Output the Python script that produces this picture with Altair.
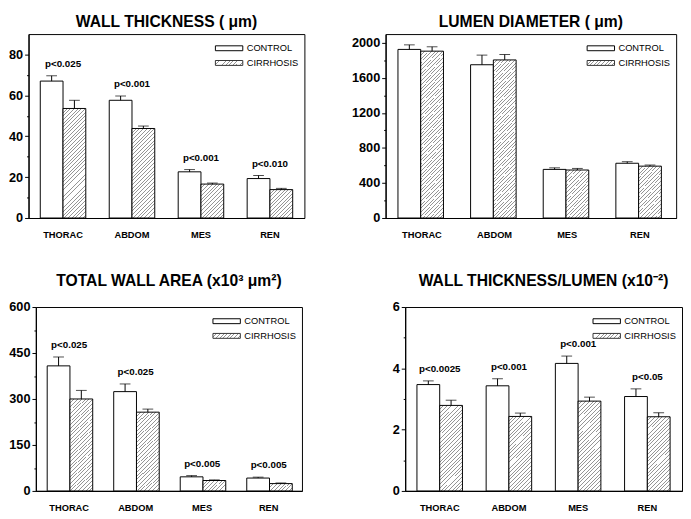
import altair as alt
import pandas as pd

FONT = "Liberation Sans, Arial, Helvetica, sans-serif"

categories = ["THORAC", "ABDOM", "MES", "REN"]
groups = ["CONTROL", "CIRRHOSIS"]

# Wall thickness (um)
wt_control = [67.0, 57.6, 22.6, 19.3]
wt_control_err = [2.6, 2.1, 1.1, 1.5]
wt_cirr = [53.6, 43.8, 16.6, 13.9]
wt_cirr_err = [4.0, 1.2, 0.5, 0.6]
wt_p = ["p<0.025", "p<0.001", "p<0.001", "p<0.010"]
wt_ticks = [0, 10, 20, 30, 40, 50, 60, 70, 80]

# Lumen diameter (um)
ld_control = [1925, 1750, 555, 625]
ld_control_err = [52, 110, 18, 18]
ld_cirr = [1905, 1805, 548, 592]
ld_cirr_err = [50, 62, 18, 13]
ld_p = ["", "", "", ""]
ld_ticks = [0, 200, 400, 600, 800, 1000, 1200, 1400, 1600, 1800, 2000]

# Total wall area (x10^3 um^2)
twa_control = [408, 324, 46, 42]
twa_control_err = [29, 25, 4, 3]
twa_cirr = [300, 257, 34, 24]
twa_cirr_err = [28, 10, 2, 2]
twa_p = ["p<0.025", "p<0.025", "p<0.005", "p<0.005"]
twa_ticks = [0, 75, 150, 225, 300, 375, 450, 525, 600]

# Wall thickness / lumen (x10^-2)
wl_control = [3.47, 3.43, 4.16, 3.08]
wl_control_err = [0.12, 0.23, 0.24, 0.25]
wl_cirr = [2.79, 2.43, 2.93, 2.42]
wl_cirr_err = [0.17, 0.11, 0.13, 0.13]
wl_p = ["p<0.0025", "p<0.001", "p<0.001", "p<0.05"]
wl_ticks = [0, 1, 2, 3, 4, 5, 6]

PAD_INNER = 0.34
PAD_OUTER = 0.17


def hatch(w, h, period=3.8, frac=0.26, color="#959595"):
    n = max(1, round((w + h) / period))
    stops = []
    for k in range(n):
        a = round(k / n, 5)
        b = round((k + frac) / n, 5)
        c = round((k + 1) / n, 5)
        stops += [
            {"offset": a, "color": color},
            {"offset": b, "color": color},
            {"offset": b, "color": "white"},
            {"offset": c, "color": "white"},
        ]
    s = (w + h) / (w * w + h * h)
    return {"gradient": "linear", "stops": stops,
            "x1": 0, "y1": 0, "x2": round(w * s, 5), "y2": round(h * s, 5)}


def panel(title, ctrl, ctrl_err, cirr, cirr_err, pvals, ticks, major, ymax,
          W, H, title_offset):
    rows = []
    for i, c in enumerate(categories):
        rows.append({"cat": c, "grp": "CONTROL", "v": ctrl[i],
                     "top": ctrl[i] + ctrl_err[i], "p": pvals[i]})
        rows.append({"cat": c, "grp": "CIRRHOSIS", "v": cirr[i],
                     "top": cirr[i] + cirr_err[i], "p": ""})
    df = pd.DataFrame(rows)
    base = alt.Chart(df)

    x = alt.X("cat:N", sort=categories,
              scale=alt.Scale(domain=categories, paddingInner=PAD_INNER,
                              paddingOuter=PAD_OUTER),
              axis=alt.Axis(title=None, labelAngle=0, ticks=False, tickSize=0,
                            labelPadding=12, labelFontWeight="bold",
                            labelFontSize=9.5, labelFont=FONT,
                            labelColor="black", domainColor="black"))
    xo = alt.XOffset("grp:N", sort=groups,
                     scale=alt.Scale(domain=groups, paddingInner=0,
                                     paddingOuter=0))
    ys = alt.Scale(domain=[0, ymax], nice=False, zero=True)
    yax = alt.Axis(title=None, values=ticks, grid=False, format="d",
                   labelOverlap=False,
                   labelExpr=f"datum.value % {major} === 0 ? datum.label : ''",
                   tickSize={"condition": {"test": f"datum.value % {major} === 0",
                                           "value": 4}, "value": 2},
                   labelFontSize=13, labelFontWeight="bold",
                   labelFont=FONT, labelColor="black", labelPadding=2,
                   tickColor="black", domainColor="black")
    y = alt.Y("v:Q", scale=ys, axis=yax)
    ytop = alt.Y("top:Q", scale=ys, axis=yax)

    ctrl_bars = base.transform_filter("datum.grp == 'CONTROL'").mark_bar(
        fill="white", stroke="black", strokeWidth=1).encode(x=x, xOffset=xo, y=y)

    step = W / (len(categories) - PAD_INNER + 2 * PAD_OUTER)
    bw = step * (1 - PAD_INNER) / 2
    layers = [ctrl_bars]
    for i, c in enumerate(categories):
        h = cirr[i] / ymax * H
        layers.append(
            base.transform_filter(f"datum.grp == 'CIRRHOSIS' && datum.cat == '{c}'")
            .mark_bar(fill=hatch(bw, h), stroke="black", strokeWidth=1)
            .encode(x=x, xOffset=xo, y=y)
        )

    err_rule = base.mark_rule(color="black", strokeWidth=1).encode(
        x=x, xOffset=xo, y=y, y2="top:Q")
    err_cap = base.mark_tick(color="black", thickness=1, size=11).encode(
        x=x, xOffset=xo, y=ytop)
    ptext = base.transform_filter("datum.p != ''").mark_text(
        font=FONT, fontSize=10, fontWeight="bold", baseline="middle",
        align="center", dy=-12, color="black").encode(
        x=x, y=ytop, text="p:N")
    layers += [err_rule, err_cap, ptext]

    one = pd.DataFrame({"k": [0]})
    lx1, lx2 = W - 91, W - 63
    sw1 = alt.Chart(one).mark_rect(fill="white", stroke="black", strokeWidth=1).encode(
        x=alt.value(lx1), x2=alt.value(lx2), y=alt.value(12), y2=alt.value(17))
    sw2 = alt.Chart(one).mark_rect(fill=hatch(28, 5), stroke="#333",
                                   strokeWidth=1).encode(
        x=alt.value(lx1), x2=alt.value(lx2), y=alt.value(27), y2=alt.value(32))
    t1 = alt.Chart(one).mark_text(text=groups[0], font=FONT, fontSize=9.5,
                                  align="left", baseline="middle",
                                  color="black").encode(
        x=alt.value(lx2 + 4), y=alt.value(14.5))
    t2 = alt.Chart(one).mark_text(text=groups[1], font=FONT, fontSize=9.5,
                                  align="left", baseline="middle",
                                  color="black").encode(
        x=alt.value(lx2 + 4), y=alt.value(29.5))
    layers += [sw1, sw2, t1, t2]

    return alt.layer(*layers).properties(
        width=W, height=H,
        title=alt.Title(title, fontSize=16, fontWeight="bold", font=FONT,
                        anchor="middle", frame="group", offset=title_offset,
                        baseline="alphabetic", color="black"))


H = 188
p1 = panel("WALL THICKNESS ( μm)", wt_control, wt_control_err, wt_cirr,
           wt_cirr_err, wt_p, wt_ticks, 20, 90, 282, H, -9)
p2 = panel("LUMEN DIAMETER ( μm)", ld_control, ld_control_err, ld_cirr,
           ld_cirr_err, ld_p, ld_ticks, 400, 2100, 297, H, -9)
p3 = panel("TOTAL WALL AREA (x10³ μm²)", twa_control, twa_control_err,
           twa_cirr, twa_cirr_err, twa_p, twa_ticks, 150, 600, 272, H, 0)
p4 = panel("WALL THICKNESS/LUMEN (x10⁻²)", wl_control, wl_control_err,
           wl_cirr, wl_cirr_err, wl_p, wl_ticks, 2, 6, 283, H, 0)

# invisible 1px spacer, used only to nudge the lower-left panel rightwards
spacer = alt.Chart(pd.DataFrame({"k": []})).mark_point().properties(
    width=1, height=1, view=alt.ViewBackground(stroke="transparent"))

row1 = alt.hconcat(p1, p2, spacing=46)
row2 = alt.hconcat(alt.hconcat(spacer, p3, spacing=-23.5), p4, spacing=91)

chart = alt.vconcat(row1, row2, spacing=33).properties(
    padding={"left": 0, "top": 0, "right": 0, "bottom": 0},
    background="white",
).configure_view(stroke="black", strokeWidth=1).configure_axis(
    domainWidth=1.2, labelOverlap=False)

chart.save("out.html", embed_options={"renderer": "svg", "actions": False})
